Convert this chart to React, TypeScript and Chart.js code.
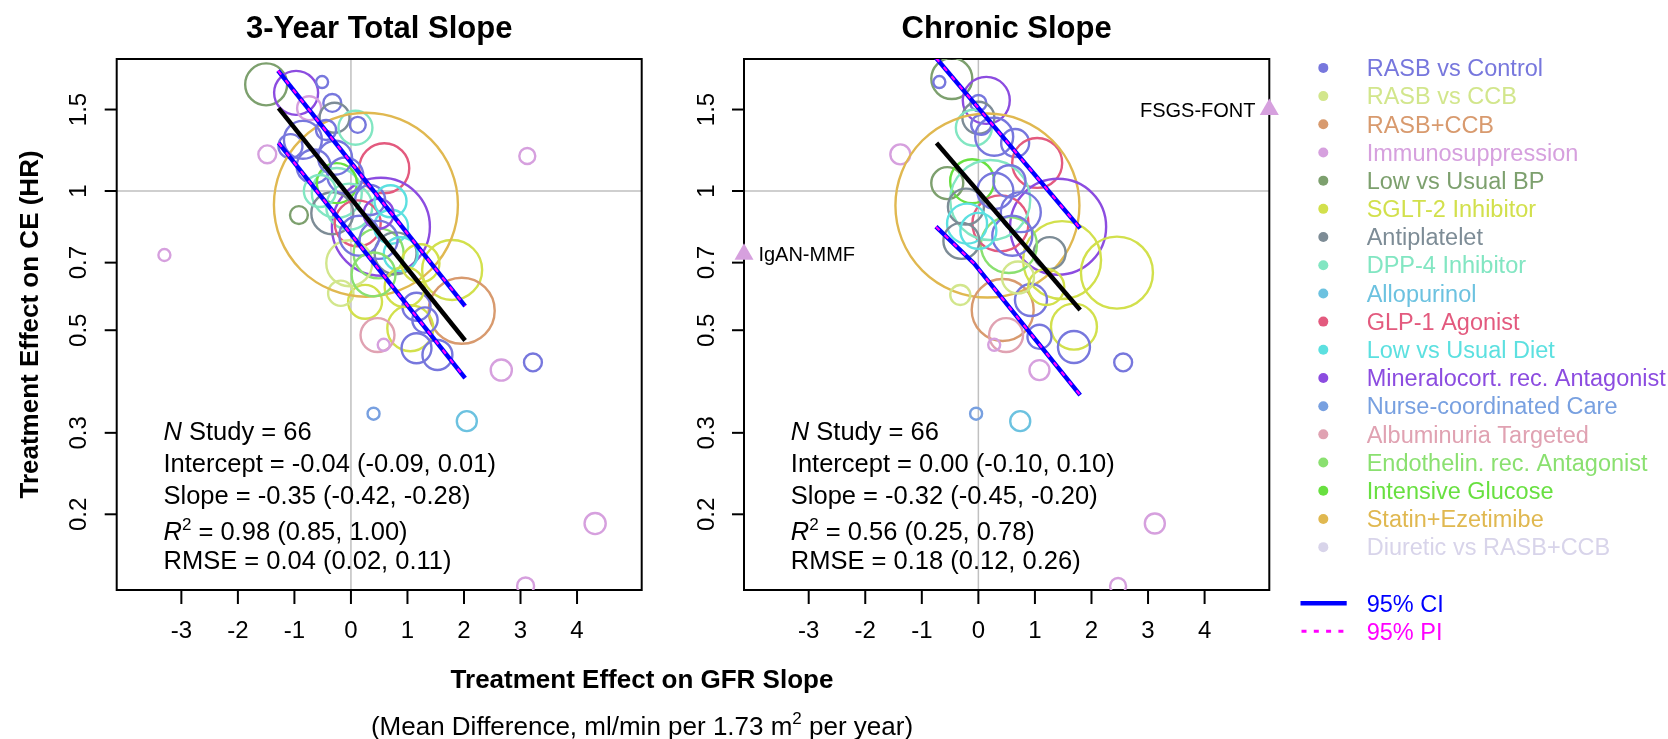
import React, { useEffect, useRef } from "react";
import { Chart, registerables } from "chart.js";
Chart.register(...registerables);

const W = 1668;
const H = 739;
const FONT = '"Liberation Sans", Arial, Helvetica, sans-serif';

// ---------- categories ----------
const categories = [
  "RASB vs Control", "RASB vs CCB", "RASB+CCB", "Immunosuppression", "Low vs Usual BP",
  "SGLT-2 Inhibitor", "Antiplatelet", "DPP-4 Inhibitor", "Allopurinol", "GLP-1 Agonist",
  "Low vs Usual Diet", "Mineralocort. rec. Antagonist", "Nurse-coordinated Care",
  "Albuminuria Targeted", "Endothelin. rec. Antagonist", "Intensive Glucose",
  "Statin+Ezetimibe", "Diuretic vs RASB+CCB",
];
const categoryColors = [
  "#7777DD", "#D2E68C", "#D89A6E", "#D6A0DE", "#7DA06E",
  "#D2E04C", "#7D8C96", "#82E6C2", "#6CC2E0", "#E35A7E",
  "#5CE0E0", "#8C4CE0", "#78A0E0", "#E0A2B2", "#8AE070",
  "#68E040", "#E0B850", "#D8D4EA",
];

// ---------- axes ----------
const xTicks = [-3, -2, -1, 0, 1, 2, 3, 4];
const yTicks = [0.2, 0.3, 0.5, 0.7, 1, 1.5];
const yTickLabels = ["0.2", "0.3", "0.5", "0.7", "1", "1.5"];
const xLimits = [-4.144, 5.144];
const yLimits = [0.1372, 1.929];

// ---------- 3-Year Total Slope ----------
const totalX = [-1.50, -0.97, -0.51, -0.74, -0.33, -0.29, 0.08, 0.12, -1.07, -1.48, 3.12, 0.59, -0.92, -3.30, 0.53, 1.79, 1.96, 1.05, 0.25, -0.18, 0.47, 0.58, 1.16, 1.53, 1.31, 1.16, 2.66, 3.22, 0.40, 2.05, 4.32, 3.09, 0.265, -0.66, -0.25, -0.25, -0.33, -0.03, 0.12, 0.71, 0.49, 0.79, 0.49, 0.88, -0.03, -0.28, -0.85, -0.44, 0.49, 0.34, 1.23, -0.10, 0.15, 0.95, 0.40, -0.55, 0.70];
const totalHR = [1.70, 1.63, 1.72, 1.51, 1.55, 1.44, 1.37, 1.39, 1.25, 1.20, 1.19, 1.12, 0.887, 0.727, 0.837, 0.675, 0.551, 0.505, 0.576, 0.601, 0.488, 0.465, 0.457, 0.442, 0.526, 0.562, 0.41, 0.426, 0.33, 0.318, 0.191, 0.140, 0.934, 1.13, 0.99, 1.04, 0.895, 0.925, 0.851, 0.837, 0.733, 0.733, 0.784, 0.73, 0.698, 1.18, 1.29, 1.355, 0.893, 0.956, 0.698, 1.08, 0.80, 0.62, 0.66, 1.00, 0.95];
const totalWeight = [110, 121, 9, 36, 20, 56, 72, 16, 36, 20, 16, 156, 20, 9, 600, 225, 272, 132, 72, 40, 72, 9, 56, 56, 40, 49, 28, 20, 9, 25, 28, 18, 2116, 72, 156, 100, 110, 132, 132, 72, 156, 110, 90, 72, 132, 72, 90, 25, 56, 56, 90, 81, 100, 100, 120, 64, 64];
const totalCategory = [4, 11, 0, 3, 0, 6, 7, 0, 0, 3, 3, 9, 4, 3, 11, 5, 2, 5, 5, 1, 13, 3, 0, 0, 0, 0, 3, 0, 12, 8, 3, 3, 16, 0, 7, 15, 6, 7, 9, 10, 14, 6, 0, 10, 1, 0, 0, 0, 11, 0, 5, 0, 0, 5, 14, 7, 10];
const totalFitX = [-1.28, 2.02];
const totalFitHR = [1.51, 0.475];
const totalUpperX = [-1.29, 2.02];
const totalUpperHR = [1.82, 0.564];
const totalLowerX = [-1.28, 2.02];
const totalLowerHR = [1.27, 0.394];
const totalStats = ["66", "-0.04 (-0.09, 0.01)", "-0.35 (-0.42, -0.28)", "0.98 (0.85, 1.00)", "0.04 (0.02, 0.11)"];

// ---------- Chronic Slope ----------
const chronicX = [-0.47, -0.69, 0.14, 0.00, 0.00, -0.08, 0.05, 0.28, 0.65, 1.04, -1.38, 0.16, -0.55, -0.11, 1.41, 2.45, 1.48, 0.43, 0.49, 0.28, 1.69, 1.69, 1.08, 2.56, 1.08, -0.32, 0.93, 1.26, 0.54, 0.39, 0.21, -0.22, -0.04, 0.74, 3.12, 2.47, -0.20, 0.60, 0.30, 1.20, 0.70, -0.30, 0.55, 0.75, 0.00];
const chronicHR = [1.75, 1.72, 1.57, 1.55, 1.44, 1.37, 1.39, 1.31, 1.27, 1.15, 1.20, 0.93, 1.04, 1.05, 0.837, 0.666, 0.709, 0.553, 0.488, 0.465, 0.509, 0.46, 0.484, 0.426, 0.41, 0.596, 0.581, 0.734, 0.764, 0.851, 0.956, 0.925, 0.33, 0.318, 0.191, 0.140, 0.85, 0.80, 1.00, 0.62, 0.65, 0.78, 1.05, 0.90, 0.82];
const chronicWeight = [105, 9, 138, 16, 64, 81, 25, 90, 49, 156, 25, 2116, 64, 121, 576, 324, 380, 240, 72, 9, 132, 64, 36, 20, 25, 25, 64, 64, 196, 196, 400, 81, 9, 25, 25, 16, 100, 100, 81, 81, 64, 81, 64, 100, 81];
const chronicCategory = [4, 0, 11, 0, 6, 7, 0, 0, 0, 9, 3, 16, 4, 15, 11, 5, 5, 2, 13, 3, 5, 0, 0, 0, 3, 1, 0, 6, 14, 9, 7, 6, 12, 8, 3, 3, 10, 0, 0, 5, 1, 6, 0, 0, 10];
const chronicFitX = [-0.74, 1.80];
const chronicFitHR = [1.27, 0.553];
const chronicUpperX = [-0.75, 1.80];
const chronicUpperHR = [1.94, 0.83];
const chronicLowerX = [-0.75, -0.08, 1.80];
const chronicLowerHR = [0.837, 0.698, 0.362];
const chronicStats = ["66", "0.00 (-0.10, 0.10)", "-0.32 (-0.45, -0.20)", "0.56 (0.25, 0.78)", "0.18 (0.12, 0.26)"];
const chronicOutlierLabels = ["IgAN-MMF", "FSGS-FONT"];
const chronicOutlierX = [-4.144, 5.144];
const chronicOutlierHR = [0.73, 1.5];
const chronicOutlierCategory = [3, 3];

// ---------- layout ----------
const PLOT_TOP = 59;
const PLOT_BOTTOM = 590;

type Panel = {
  title: string;
  left: number;
  right: number;
  x: number[]; hr: number[]; weight: number[]; cat: number[];
  fitX: number[]; fitHR: number[];
  upX: number[]; upHR: number[];
  loX: number[]; loHR: number[];
  stats: string[];
  outliers?: { x: number[]; hr: number[]; labels: string[]; cat: number[] };
  first: boolean;
};

const leftPanel: Panel = {
  title: "3-Year Total Slope", left: 116.7, right: 641.7,
  x: totalX, hr: totalHR, weight: totalWeight, cat: totalCategory,
  fitX: totalFitX, fitHR: totalFitHR, upX: totalUpperX, upHR: totalUpperHR,
  loX: totalLowerX, loHR: totalLowerHR, stats: totalStats, first: true,
};
const rightPanel: Panel = {
  title: "Chronic Slope", left: 744, right: 1269.3,
  x: chronicX, hr: chronicHR, weight: chronicWeight, cat: chronicCategory,
  fitX: chronicFitX, fitHR: chronicFitHR, upX: chronicUpperX, upHR: chronicUpperHR,
  loX: chronicLowerX, loHR: chronicLowerHR, stats: chronicStats,
  outliers: { x: chronicOutlierX, hr: chronicOutlierHR, labels: chronicOutlierLabels, cat: chronicOutlierCategory },
  first: false,
};

const CAP = 0.35;
function font(size: number, style = "") {
  return `${style} ${size}px ${FONT}`.trim();
}
type Run = { t: string; size: number; style?: string; dy?: number };
function runsWidth(ctx: CanvasRenderingContext2D, runs: Run[]) {
  let w = 0;
  for (const r of runs) { ctx.font = font(r.size, r.style); w += ctx.measureText(r.t).width; }
  return w;
}
function drawRuns(ctx: CanvasRenderingContext2D, runs: Run[], x: number, baseline: number) {
  let cx = x;
  for (const r of runs) {
    ctx.font = font(r.size, r.style);
    ctx.fillText(r.t, cx, baseline + (r.dy || 0));
    cx += ctx.measureText(r.t).width;
  }
}

function decorPlugin(p: Panel) {
  return {
    id: "decor",
    beforeDatasetsDraw(chart: any) {
      const { ctx, chartArea: a } = chart;
      const xs = chart.scales.x, ys = chart.scales.y;
      ctx.save();
      ctx.strokeStyle = "#C0C0C0";
      ctx.lineWidth = 1.5;
      const gx = xs.getPixelForValue(0), gy = ys.getPixelForValue(1);
      ctx.beginPath();
      ctx.moveTo(gx, a.top); ctx.lineTo(gx, a.bottom);
      ctx.moveTo(a.left, gy); ctx.lineTo(a.right, gy);
      ctx.stroke();
      // box
      ctx.strokeStyle = "#000";
      ctx.lineWidth = 2;
      ctx.strokeRect(a.left, a.top, a.right - a.left, a.bottom - a.top);
      ctx.restore();
    },
    afterDraw(chart: any) {
      const { ctx, chartArea: a } = chart;
      const xs = chart.scales.x, ys = chart.scales.y;
      ctx.save();
      ctx.fillStyle = "#000";
      ctx.strokeStyle = "#000";
      ctx.lineWidth = 2;
      ctx.textBaseline = "alphabetic";
      // x ticks
      ctx.font = font(24);
      ctx.textAlign = "center";
      for (const v of xTicks) {
        const px = xs.getPixelForValue(v);
        ctx.beginPath(); ctx.moveTo(px, a.bottom); ctx.lineTo(px, a.bottom + 14); ctx.stroke();
        ctx.fillText(String(v), px, a.bottom + 40 + 24 * CAP);
      }
      // y ticks
      yTicks.forEach((v, i) => {
        const py = ys.getPixelForValue(v);
        ctx.beginPath(); ctx.moveTo(a.left - 12, py); ctx.lineTo(a.left, py); ctx.stroke();
        ctx.save();
        ctx.translate(a.left - 38.8 + 24 * CAP, py);
        ctx.rotate(-Math.PI / 2);
        ctx.fillText(yTickLabels[i], 0, 0);
        ctx.restore();
      });
      // title
      ctx.font = font(31, "bold");
      ctx.fillText(p.title, (a.left + a.right) / 2, 37.5);
      // stats
      ctx.textAlign = "left";
      const sx = a.left + 46.8;
      const fs = 25.5;
      const rows: Run[][] = [
        [{ t: "N", size: fs, style: "italic" }, { t: " Study = " + p.stats[0], size: fs }],
        [{ t: "Intercept = " + p.stats[1], size: fs }],
        [{ t: "Slope = " + p.stats[2], size: fs }],
        [{ t: "R", size: fs, style: "italic" }, { t: "2", size: 17, dy: -10.5 }, { t: " = " + p.stats[3], size: fs }],
        [{ t: "RMSE = " + p.stats[4], size: fs }],
      ];
      const rowCenters = [-159, -126.7, -95, -58.5, -30];
      rows.forEach((r, i) => drawRuns(ctx, r, sx, a.bottom + rowCenters[i] + fs * CAP));
      // outlier labels
      if (p.outliers) {
        ctx.font = font(20);
        p.outliers.labels.forEach((lab, i) => {
          const px = xs.getPixelForValue(p.outliers!.x[i]);
          const py = ys.getPixelForValue(p.outliers!.hr[i]);
          const leftSide = px < (a.left + a.right) / 2;
          ctx.textAlign = leftSide ? "left" : "right";
          ctx.fillText(lab, leftSide ? px + 14.4 : px - 13.8, py + 20 * CAP);
        });
      }
      if (p.first) {
        // y axis title
        ctx.save();
        ctx.font = font(26, "bold");
        ctx.textAlign = "center";
        ctx.translate(28.4 + 26 * CAP, (a.top + a.bottom) / 2);
        ctx.rotate(-Math.PI / 2);
        ctx.fillText("Treatment Effect on CE (HR)", 0, 0);
        ctx.restore();
        // x axis title
        ctx.font = font(26, "bold");
        ctx.textAlign = "center";
        ctx.fillText("Treatment Effect on GFR Slope", 642, 688.3);
        const sub: Run[] = [
          { t: "(Mean Difference, ml/min per 1.73 m", size: 26 },
          { t: "2", size: 17, dy: -11 },
          { t: " per year)", size: 26 },
        ];
        ctx.textAlign = "left";
        const sw = runsWidth(ctx, sub);
        drawRuns(ctx, sub, 642 - sw / 2, 735);
      } else {
        // legend
        ctx.textAlign = "left";
        categories.forEach((c, i) => {
          const cy = 67.9 + i * 28.19;
          ctx.fillStyle = categoryColors[i];
          ctx.beginPath(); ctx.arc(1323.3, cy, 5, 0, Math.PI * 2); ctx.fill();
          ctx.font = font(23.5);
          ctx.fillText(c, 1366.7, cy + 23.5 * CAP);
        });
        ctx.lineCap = "butt";
        ctx.strokeStyle = "#0000FF";
        ctx.lineWidth = 4.6;
        ctx.beginPath(); ctx.moveTo(1300.5, 603.3); ctx.lineTo(1346.7, 603.3); ctx.stroke();
        ctx.strokeStyle = "#FF00FF";
        ctx.lineWidth = 3;
        ctx.setLineDash([5, 7.3]);
        ctx.beginPath(); ctx.moveTo(1301.5, 631.3); ctx.lineTo(1348, 631.3); ctx.stroke();
        ctx.setLineDash([]);
        ctx.font = font(23.5);
        ctx.fillStyle = "#0000FF";
        ctx.fillText("95% CI", 1366.7, 603.3 + 23.5 * CAP);
        ctx.fillStyle = "#FF00FF";
        ctx.fillText("95% PI", 1366.7, 631.3 + 23.5 * CAP);
      }
      ctx.restore();
    },
  };
}

function makeConfig(p: Panel): any {
  const pts = (xs: number[], ys: number[]) => xs.map((x, i) => ({ x, y: ys[i] }));
  const bubbles = p.x.map((x, i) => ({ x, y: p.hr[i], r: 2 * Math.sqrt(p.weight[i]) }));
  const lineDs = (data: any[], color: string, width: number, dash: number[], order: number) => ({
    type: "line", data, borderColor: color, borderWidth: width, borderDash: dash,
    pointRadius: 0, pointHoverRadius: 0, fill: false, tension: 0, clip: 0, order,
  });
  const datasets: any[] = [
    {
      type: "bubble", data: bubbles, backgroundColor: "rgba(0,0,0,0)",
      borderColor: p.cat.map((c) => categoryColors[c]),
      hoverBorderColor: p.cat.map((c) => categoryColors[c]),
      borderWidth: 2.4, hoverBorderWidth: 2.4, hoverRadius: 0, clip: 0, order: 10,
    },
    lineDs(pts(p.fitX, p.fitHR), "#000000", 4.5, [], 5),
    lineDs(pts(p.upX, p.upHR), "#0000FF", 4.5, [], 4),
    lineDs(pts(p.loX, p.loHR), "#0000FF", 4.5, [], 4),
    lineDs(pts(p.upX, p.upHR), "#FF00FF", 2.2, [5, 7], 3),
    lineDs(pts(p.loX, p.loHR), "#FF00FF", 2.2, [5, 7], 3),
  ];
  if (p.outliers) {
    const o = p.outliers;
    datasets.push({
      type: "scatter", data: pts(o.x, o.hr), pointStyle: "triangle", pointRadius: 11,
      pointHoverRadius: 11, backgroundColor: o.cat.map((c) => categoryColors[c]),
      borderWidth: 0, clip: false, order: 1,
    });
  }
  return {
    type: "bubble",
    data: { datasets },
    options: {
      responsive: false,
      animation: false,
      events: [],
      layout: {
        autoPadding: false,
        padding: { left: p.left, right: W - p.right, top: PLOT_TOP, bottom: H - PLOT_BOTTOM },
      },
      plugins: { legend: { display: false }, tooltip: { enabled: false }, title: { display: false } },
      scales: {
        x: { type: "linear", min: xLimits[0], max: xLimits[1], display: false },
        y: { type: "logarithmic", min: yLimits[0], max: yLimits[1], display: false },
      },
    },
    plugins: [decorPlugin(p)],
  };
}

export default function App() {
  const leftRef = useRef<HTMLCanvasElement>(null);
  const rightRef = useRef<HTMLCanvasElement>(null);
  useEffect(() => {
    const c1 = new Chart(leftRef.current as HTMLCanvasElement, makeConfig(leftPanel));
    const c2 = new Chart(rightRef.current as HTMLCanvasElement, makeConfig(rightPanel));
    return () => { c1.destroy(); c2.destroy(); };
  }, []);
  const cs: React.CSSProperties = { position: "absolute", left: 0, top: 0, width: W, height: H };
  return (
    <div style={{ position: "fixed", left: 0, top: 0, width: W, height: H, background: "#fff", overflow: "hidden" }}>
      <canvas ref={leftRef} width={W} height={H} style={cs} />
      <canvas ref={rightRef} width={W} height={H} style={cs} />
    </div>
  );
}
